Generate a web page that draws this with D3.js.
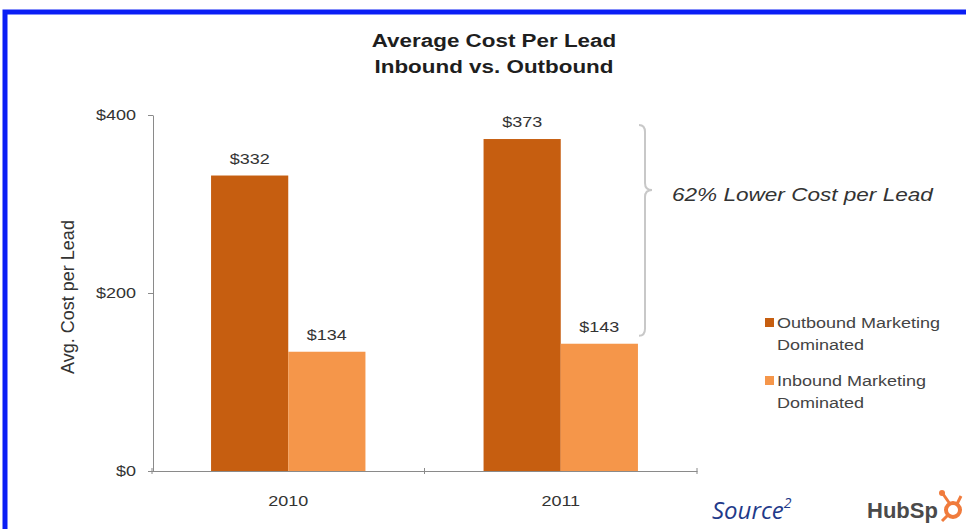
<!DOCTYPE html>
<html><head><meta charset="utf-8">
<script src="https://cdn.jsdelivr.net/npm/d3@7"></script>
<style>html,body{margin:0;padding:0;background:#fff;}svg{display:block;}</style>
</head><body>
<script>
const categories = ["2010", "2011"];
const seriesNames = ["Outbound Marketing Dominated", "Inbound Marketing Dominated"];
const legendLines = [["Outbound Marketing", "Dominated"], ["Inbound Marketing", "Dominated"]];
const outbound = [332, 373];
const inbound = [134, 143];
const yTicks = [0, 200, 400];
const colors = ["#c65e10", "#f5964a"];

const W = 966, H = 529;
const SX = 1.2; // horizontal stretch of the reference text
const svg = d3.select("body").append("svg").attr("width", W).attr("height", H);
const font = "'Liberation Sans', Arial, sans-serif";

function txt(parent, x, y, str, o) {
  o = o || {};
  return parent.append("text")
    .attr("transform", `translate(${x},${y}) scale(${o.sx || SX},1)`)
    .attr("text-anchor", o.anchor || "start")
    .attr("font-family", o.family || font)
    .attr("font-size", o.size || 15)
    .attr("font-weight", o.weight || "normal")
    .attr("font-style", o.style || "normal")
    .attr("fill", o.fill || "#333")
    .text(str);
}

// blue frame
svg.append("rect").attr("x", 5).attr("y", 12).attr("width", W + 10).attr("height", H + 10)
  .attr("fill", "none").attr("stroke", "#0a1ef5").attr("stroke-width", 5);

// title
txt(svg, 494, 47, "Average Cost Per Lead", {anchor: "middle", size: 19, weight: "bold", fill: "#1e1e1e", sx: 1.18});
txt(svg, 494, 73, "Inbound vs. Outbound", {anchor: "middle", size: 19, weight: "bold", fill: "#1e1e1e", sx: 1.18});

const x0 = d3.scaleBand().domain(categories).range([152, 697]).padding(0);
const x1 = d3.scaleBand().domain([0, 1]).range([0, x0.bandwidth()]).paddingInner(0).paddingOuter(0.765);
const y = d3.scaleLinear().domain([0, 400]).range([471, 115]);

const data = categories.map((c, i) => ({cat: c, vals: [outbound[i], inbound[i]]}));

// bars
const g = svg.append("g");
data.forEach(d => {
  d.vals.forEach((v, s) => {
    g.append("rect").attr("x", x0(d.cat) + x1(s)).attr("y", y(v))
      .attr("width", x1.bandwidth()).attr("height", y(0) - y(v)).attr("fill", colors[s]);
    txt(g, x0(d.cat) + x1(s) + x1.bandwidth() / 2, y(v) - 12, "$" + v, {anchor: "middle", size: 15});
  });
});

// y axis
const yAxis = svg.append("g").attr("transform", "translate(153,0)")
  .call(d3.axisLeft(y).tickValues(yTicks).tickFormat(d => "$" + d).tickSize(5).tickSizeOuter(0));
yAxis.select(".domain").attr("stroke", "#8a8a8a");
yAxis.selectAll(".tick line").attr("stroke", "#8a8a8a");
yAxis.selectAll(".tick text").attr("font-family", font).attr("font-size", 15).attr("fill", "#333")
  .attr("x", -17 / SX).attr("transform", `scale(${SX},1)`);

// x axis
const xAxis = svg.append("g").attr("transform", "translate(0,471)")
  .call(d3.axisBottom(x0).tickSize(0).tickSizeOuter(0));
xAxis.select(".domain").attr("stroke", "#8a8a8a");
xAxis.selectAll(".tick text").attr("font-family", font).attr("font-size", 15).attr("fill", "#333")
  .attr("dy", 0).attr("y", 35).attr("transform", `scale(${SX},1)`);
const bounds = [x0.range()[0], x0.range()[0] + x0.step(), x0.range()[1]];
xAxis.selectAll(".btick").data(bounds).enter().append("line")
  .attr("x1", d => d).attr("x2", d => d).attr("y1", -3).attr("y2", 3).attr("stroke", "#8a8a8a");

// y axis title
svg.append("text").attr("transform", "translate(74,297) rotate(-90)").attr("text-anchor", "middle")
  .attr("font-family", font).attr("font-size", 18).attr("fill", "#333").text("Avg. Cost per Lead");

// brace from top of outbound 2011 to top of inbound 2011
const bx = 645, yTop = y(outbound[1]) - 14, yBot = y(inbound[1]) - 8, ym = 190;
const r = 7;
const brace = `M${bx - 6},${yTop} Q${bx},${yTop} ${bx},${yTop + r} L${bx},${ym - r} Q${bx},${ym} ${bx + 7},${ym} Q${bx},${ym} ${bx},${ym + r} L${bx},${yBot - r} Q${bx},${yBot} ${bx - 6},${yBot}`;
svg.append("path").attr("d", brace).attr("fill", "none").attr("stroke", "#c8c8c8").attr("stroke-width", 2);

txt(svg, 672, 201, "62% Lower Cost per Lead", {size: 18.5, style: "italic", sx: 1.22});

// legend
const legendY = [322, 380];
seriesNames.forEach((n, i) => {
  svg.append("rect").attr("x", 765).attr("y", legendY[i] - 4).attr("width", 9).attr("height", 9).attr("fill", colors[i]);
  legendLines[i].forEach((t, j) => {
    txt(svg, 777, legendY[i] + 6 + j * 22, t, {size: 15, fill: "#444"});
  });
});

// source
const src = svg.append("text").attr("x", 712).attr("y", 519).attr("font-family", "'Open Sans', 'DejaVu Sans', sans-serif")
  .attr("font-style", "italic").attr("font-size", 24).attr("fill", "#1f3a8a");
src.append("tspan").text("Source");
src.append("tspan").attr("font-size", 14).attr("dy", -11).text("2");

// HubSpot logo
svg.append("text").attr("x", 867).attr("y", 518).attr("font-family", font).attr("font-weight", "bold")
  .attr("font-size", 22).attr("fill", "#4a4a4a").text("HubSp");
const lg = svg.append("g").attr("transform", "translate(953,510)");
lg.append("circle").attr("r", 7).attr("fill", "none").attr("stroke", "#f07b3c").attr("stroke-width", 4);
lg.append("line").attr("x1", -3).attr("y1", -6).attr("x2", -10).attr("y2", -16).attr("stroke", "#f07b3c").attr("stroke-width", 3);
lg.append("circle").attr("cx", -11).attr("cy", -17).attr("r", 3).attr("fill", "#f07b3c");
lg.append("line").attr("x1", 4).attr("y1", -6).attr("x2", 8).attr("y2", -14).attr("stroke", "#f07b3c").attr("stroke-width", 3);
lg.append("line").attr("x1", -5).attr("y1", 5).attr("x2", -11).attr("y2", 11).attr("stroke", "#f07b3c").attr("stroke-width", 3);
</script>
</body></html>
